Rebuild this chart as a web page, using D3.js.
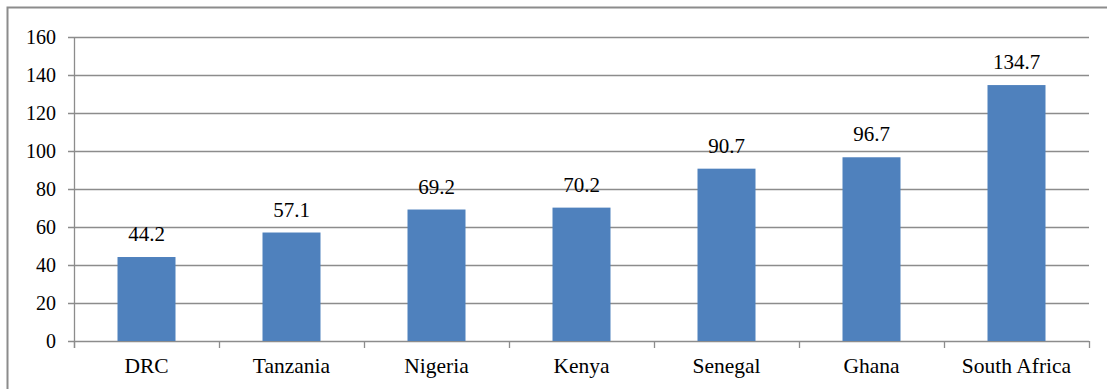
<!DOCTYPE html>
<html>
<head>
<meta charset="utf-8">
<script src="https://cdn.jsdelivr.net/npm/d3@7"></script>
<style>
  body { margin: 0; background: #fff; }
  svg { display: block; }
  text { font-family: "Liberation Serif", "Times New Roman", serif; fill: #000; }
</style>
</head>
<body>
<svg id="chart" width="1107" height="389"></svg>
<script>
const countries = ["DRC", "Tanzania", "Nigeria", "Kenya", "Senegal", "Ghana", "South Africa"];
const values = [44.2, 57.1, 69.2, 70.2, 90.7, 96.7, 134.7];
const yTicks = [0, 20, 40, 60, 80, 100, 120, 140, 160];

const svg = d3.select("#chart");
const plotLeft = 74, plotRight = 1089, plotTop = 37, plotBottom = 341;

// outer frame (only top/left edges fall inside the picture)
svg.append("rect")
  .attr("x", 7.5).attr("y", 7.5)
  .attr("width", 1120).attr("height", 400)
  .attr("fill", "none")
  .attr("stroke", "#8c8c8c")
  .attr("stroke-width", 2);

let x = d3.scaleBand().domain(countries).range([plotLeft, plotRight]).padding(0);
let y = d3.scaleLinear().domain([0, 160]).range([plotBottom, plotTop]);

// gridlines
svg.append("g").selectAll("line")
  .data(yTicks)
  .enter().append("line")
  .attr("x1", plotLeft - 6).attr("x2", plotRight)
  .attr("y1", d => Math.round(y(d)) + 0.5)
  .attr("y2", d => Math.round(y(d)) + 0.5)
  .attr("stroke", "#8c8c8c")
  .attr("stroke-width", 1.3);

// y tick labels
svg.append("g").selectAll("text")
  .data(yTicks)
  .enter().append("text")
  .attr("x", 56)
  .attr("y", d => y(d) + 7)
  .attr("text-anchor", "end")
  .attr("font-size", "20px")
  .text(d => d);

// axis lines
svg.append("line")
  .attr("x1", plotLeft + 0.5).attr("x2", plotLeft + 0.5)
  .attr("y1", plotTop).attr("y2", plotBottom + 7)
  .attr("stroke", "#8c8c8c").attr("stroke-width", 1.3);

let catTicks = countries.map(c => x(c)).concat([plotRight]);
svg.append("g").selectAll("line")
  .data(catTicks)
  .enter().append("line")
  .attr("x1", d => Math.round(d) + 0.5).attr("x2", d => Math.round(d) + 0.5)
  .attr("y1", plotBottom).attr("y2", plotBottom + 7)
  .attr("stroke", "#8c8c8c").attr("stroke-width", 1.3);

// bars
let barW = x.bandwidth() * 0.4;
svg.append("g").selectAll("rect")
  .data(values)
  .enter().append("rect")
  .attr("x", (d, i) => x(countries[i]) + (x.bandwidth() - barW) / 2)
  .attr("y", d => y(d))
  .attr("width", barW)
  .attr("height", d => plotBottom - y(d))
  .attr("fill", "#4f81bd");

// value labels
svg.append("g").selectAll("text")
  .data(values)
  .enter().append("text")
  .attr("x", (d, i) => x(countries[i]) + x.bandwidth() / 2)
  .attr("y", d => y(d) - 16)
  .attr("text-anchor", "middle")
  .attr("font-size", "21px")
  .text(d => d.toFixed(1));

// category labels
svg.append("g").selectAll("text")
  .data(countries)
  .enter().append("text")
  .attr("x", d => x(d) + x.bandwidth() / 2)
  .attr("y", 373)
  .attr("text-anchor", "middle")
  .attr("font-size", "21.5px")
  .text(d => d);
</script>
</body>
</html>
